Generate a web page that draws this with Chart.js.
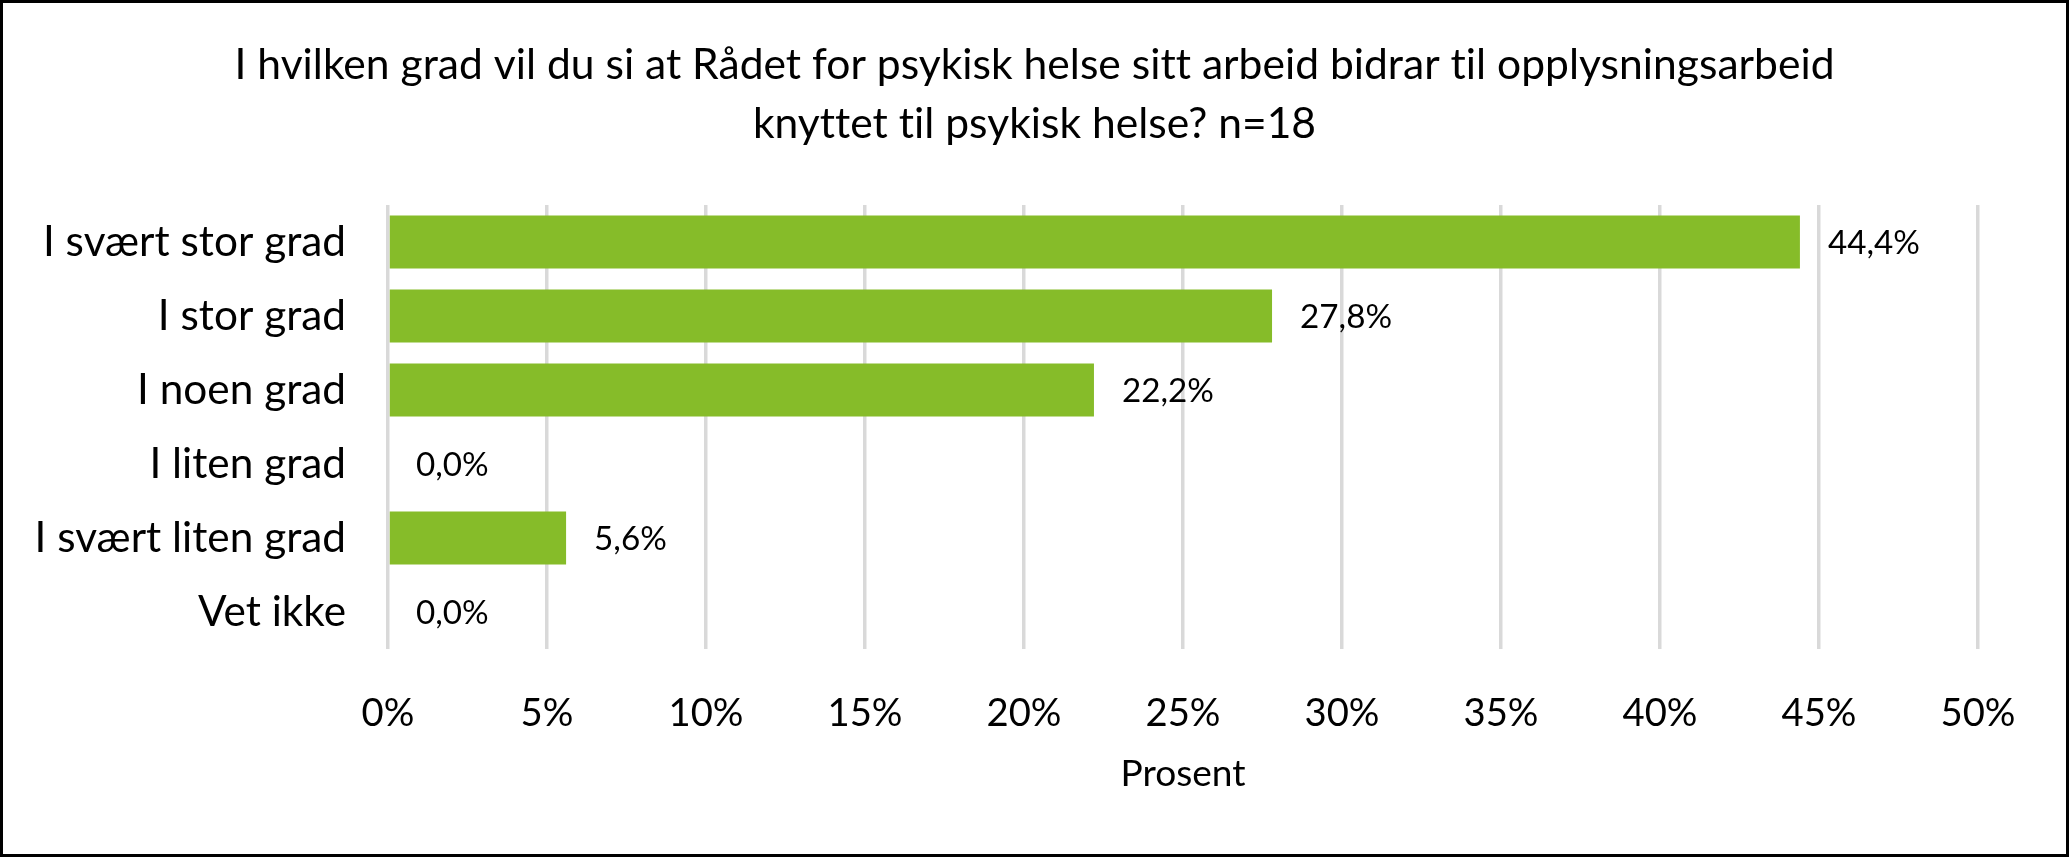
<!DOCTYPE html>
<html>
<head>
<meta charset="utf-8">
<script src="https://cdn.jsdelivr.net/npm/chart.js@4.4.1/dist/chart.umd.min.js"></script>
<style>
  html, body { margin: 0; padding: 0; background: #fff; }
  #wrap { position: relative; width: 2069px; height: 857px; }
  canvas { display: block; }
</style>
</head>
<body>
<div id="wrap"><canvas id="c" width="2069" height="857"></canvas></div>
<script>
// ---- Data ----
const titleLines = [
  "I hvilken grad vil du si at Rådet for psykisk helse sitt arbeid bidrar til opplysningsarbeid",
  "knyttet til psykisk helse? n=18"
];
const categories = ["I svært stor grad", "I stor grad", "I noen grad", "I liten grad", "I svært liten grad", "Vet ikke"];
const values = [44.4, 27.8, 22.2, 0.0, 5.6, 0.0];
const xAxisTitle = "Prosent";
const xMin = 0, xMax = 50, xStep = 5;

// ---- Styling helpers ----
const FAMILY = "Lato";
function fitSize(text, target) {
  const ctx = document.createElement('canvas').getContext('2d');
  ctx.font = "normal 100px " + FAMILY;
  return 100 * target / ctx.measureText(text).width;
}
const titleSize = fitSize(titleLines[0], 1599);
const catSize = fitSize("I svært stor grad", 303);
const tickSize = fitSize("50%", 75);
const dlSize = fitSize("44,4%", 92);
const axTitleSize = fitSize("Prosent", 125);

const GREEN = "#86bc29";
const GRID = "#d9d9d9";
const TEXT = "#000000";

const fmt = v => v.toFixed(1).replace('.', ',') + '%';

const noLigaturePlugin = {
  id: 'noLig',
  beforeDraw(chart) {
    try { chart.ctx.letterSpacing = '0.01px'; } catch (e) {}
  }
};

const dataLabelPlugin = {
  id: 'dataLabels',
  afterDatasetsDraw(chart) {
    const ctx = chart.ctx;
    const meta = chart.getDatasetMeta(0);
    ctx.save();
    ctx.font = `normal ${dlSize}px ${FAMILY}`;
    ctx.fillStyle = TEXT;
    ctx.textAlign = 'left';
    ctx.textBaseline = 'middle';
    meta.data.forEach((el, i) => {
      ctx.fillText(fmt(chart.data.datasets[0].data[i]), el.x + 28, el.y + 1);
    });
    ctx.restore();
  }
};

const borderPlugin = {
  id: 'outerBorder',
  afterDraw(chart) {
    const ctx = chart.ctx;
    ctx.save();
    ctx.strokeStyle = '#000';
    ctx.lineWidth = 3;
    ctx.strokeRect(1.5, 1.5, chart.width - 3, chart.height - 3);
    ctx.restore();
  }
};

new Chart(document.getElementById('c'), {
  type: 'bar',
  data: {
    labels: categories,
    datasets: [{
      data: values,
      backgroundColor: GREEN,
      borderWidth: 0,
      barPercentage: 0.716,
      categoryPercentage: 1.0
    }]
  },
  options: {
    indexAxis: 'y',
    responsive: false,
    animation: false,
    devicePixelRatio: 1,
    layout: { padding: 0 },
    plugins: {
      legend: { display: false },
      tooltip: { enabled: false },
      title: {
        display: true,
        text: titleLines,
        color: TEXT,
        font: { family: FAMILY, size: titleSize, weight: 'normal', lineHeight: '59px' },
        padding: { top: 36, bottom: 51 }
      }
    },
    scales: {
      x: {
        type: 'linear',
        min: xMin,
        max: xMax,
        ticks: {
          stepSize: xStep,
          color: TEXT,
          font: { family: FAMILY, size: tickSize },
          padding: 42,
          callback: v => v + '%'
        },
        grid: { color: GRID, lineWidth: 3.5, drawTicks: false },
        border: { display: false },
        title: {
          display: true,
          text: xAxisTitle,
          color: TEXT,
          font: { family: FAMILY, size: axTitleSize },
          padding: { top: 0, bottom: 61 }
        },
        afterFit(scale) { scale.height = 208; }
      },
      y: {
        ticks: {
          color: TEXT,
          font: { family: FAMILY, size: catSize },
          padding: 42,
          autoSkip: false
        },
        grid: { display: false, drawTicks: false },
        border: { display: false },
        afterFit(scale) { scale.width = 388; }
      },
      yRight: {
        type: 'category',
        axis: 'y',
        position: 'right',
        display: true,
        ticks: { display: false },
        grid: { display: false, drawTicks: false },
        border: { display: false },
        afterFit(scale) { scale.width = 91; }
      }
    }
  },
  plugins: [noLigaturePlugin, dataLabelPlugin, borderPlugin]
});
</script>
</body>
</html>
